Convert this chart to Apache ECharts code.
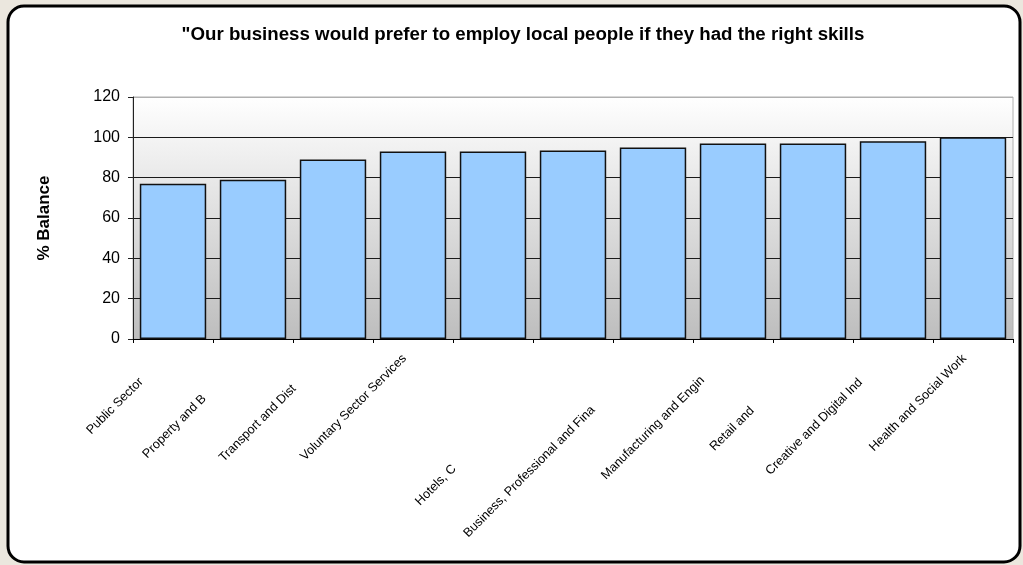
<!DOCTYPE html>
<html>
<head>
<meta charset="utf-8">
<script src="https://cdn.jsdelivr.net/npm/echarts@6/dist/echarts.min.js"></script>
<style>
html,body{margin:0;padding:0;background:#ebe7de;}
#c{width:1023px;height:565px;}
</style>
</head>
<body>
<div id="c"></div>
<script>
const titleText = '"Our business would prefer to employ local people if they had the right skills';
const yAxisName = '% Balance';
const categories = [
  'Public Sector',
  'Property and B',
  'Transport and Dist',
  'Voluntary Sector Services',
  '',
  'Hotels, C',
  'Business, Professional and Fina',
  'Manufacturing and Engin',
  'Retail and',
  'Creative and Digital Ind',
  'Health and Social Work'
];
const values = [77, 79, 89, 93, 93, 93.5, 95, 97, 97, 98, 100];
const yTicks = [0, 20, 40, 60, 80, 100, 120];

// styling only: how far each rotated label is pushed away from its tick (px)
const labelShift = [45, 69, 55, 12, 0, 168, 85, 43, 86, 46, 12];

const FONT = 'Liberation Sans, Arial, sans-serif';
const rich = {};
labelShift.forEach(function (p, i) {
  rich['s' + i] = {fontSize: 12.6, color: '#000', fontFamily: FONT, padding: [0, p, 0, 0]};
});

const chart = echarts.init(document.getElementById('c'), null, {renderer: 'canvas'});
chart.setOption({
  backgroundColor: '#ebe7de',
  animation: false,
  graphic: [{
    type: 'rect',
    z: -10,
    shape: {x: 8, y: 6, width: 1012, height: 556, r: 16},
    style: {fill: '#ffffff', stroke: '#000000', lineWidth: 3}
  }],
  title: {
    text: titleText,
    left: 518, top: 20, textAlign: 'center',
    textStyle: {fontFamily: FONT, fontSize: 18.7, fontWeight: 'bold', color: '#000'}
  },
  grid: {
    left: 133, right: 10, top: 97, bottom: 226,
    show: true,
    borderColor: '#b0b0b0', borderWidth: 1,
    backgroundColor: {
      type: 'linear', x: 0, y: 0, x2: 0, y2: 1,
      colorStops: [{offset: 0, color: '#ffffff'}, {offset: 1, color: '#bdbdbd'}]
    }
  },
  xAxis: {
    type: 'category',
    data: categories,
    axisLine: {lineStyle: {color: '#000', width: 1}},
    axisTick: {show: true, length: 4, lineStyle: {color: '#000'}},
    axisLabel: {
      rotate: 45, interval: 0, margin: 9, color: '#000', fontSize: 12.6, fontFamily: FONT,
      formatter: function (v, i) { return v ? '{s' + i + '|' + v + '}' : ''; },
      rich: rich
    }
  },
  yAxis: {
    type: 'value', min: yTicks[0], max: yTicks[yTicks.length - 1], interval: yTicks[1] - yTicks[0],
    name: yAxisName, nameLocation: 'middle', nameGap: 80, nameRotate: 90,
    nameTextStyle: {fontFamily: FONT, fontSize: 17, fontWeight: 'bold', color: '#000'},
    axisLine: {show: true, lineStyle: {color: '#222'}},
    axisTick: {show: true, length: 5, lineStyle: {color: '#222'}},
    axisLabel: {fontSize: 16, color: '#000', margin: 13, fontFamily: FONT},
    splitLine: {show: true, lineStyle: {color: ['#1a1a1a','#1a1a1a','#1a1a1a','#1a1a1a','#1a1a1a','#1a1a1a','#b0b0b0'], width: 1}}
  },
  series: [{
    type: 'bar',
    data: values,
    barCategoryGap: '17%',
    itemStyle: {color: '#99ccff', borderColor: '#111', borderWidth: 1.5}
  }]
});
</script>
</body>
</html>
